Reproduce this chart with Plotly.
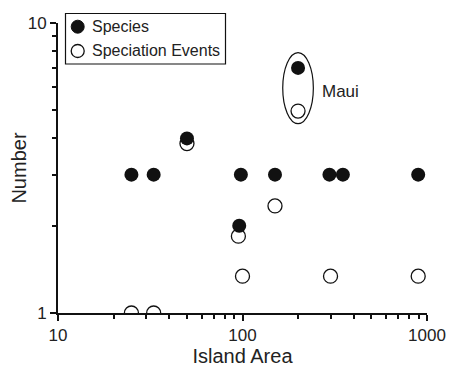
import math
import plotly.graph_objects as go

# Data
species_area = [25, 33, 50, 96, 98, 150, 200, 296, 350, 896]
species_num = [3, 3, 4, 2, 3, 3, 7, 3, 3, 3]

spec_area = [25, 33, 50, 95, 100, 150, 200, 300, 896]
spec_num = [1, 1, 3.84, 1.84, 1.34, 2.34, 4.97, 1.34, 1.34]

maui_area = 200
maui_species = 7
maui_events = 4.97

legend_labels = ["Species", "Speciation Events"]

x_major = [10, 100, 1000]
x_major_text = ["10", "100", "1000"]
x_minor = [20, 30, 40, 50, 60, 70, 80, 90, 200, 300, 400, 500, 600, 700, 800, 900]
y_major = [1, 10]
y_major_text = ["1", "10"]
y_minor = [2, 3, 4, 5, 6, 7, 8, 9]

FONT = "Arial, Liberation Sans, sans-serif"
INK = "#111"
TXT = "#222"

OFF = 8  # default page body margin
W, H = 469 - OFF, 367 - OFF
L, R, T, B = 58 - OFF, 42, 23 - OFF, 54
PW, PH = W - L - R, H - T - B


def px(x):
    return (x - OFF - L) / PW


def py(y):
    return (H - B - (y - OFF)) / PH


fig = go.Figure()
fig.add_trace(go.Scatter(
    x=spec_area, y=spec_num, mode="markers", name=legend_labels[1],
    marker=dict(size=14, color="white", line=dict(color=INK, width=1.3)),
    showlegend=False,
))
fig.add_trace(go.Scatter(
    x=species_area, y=species_num, mode="markers", name=legend_labels[0],
    marker=dict(size=14, color=INK, line=dict(color=INK, width=0)),
    showlegend=False,
))

# Ellipse around Maui (data coordinates on log axes)
fig.add_shape(type="circle", xref="x", yref="y",
              x0=maui_area / 10 ** 0.083, x1=maui_area * 10 ** 0.083,
              y0=maui_events / 1.105, y1=maui_species * 1.13,
              line=dict(color=INK, width=1.2))
fig.add_annotation(x=math.log10(maui_area), y=math.log10(math.sqrt(maui_species * maui_events)),
                   xref="x", yref="y", text="Maui", showarrow=False,
                   xanchor="left", xshift=22, yshift=-2,
                   font=dict(family=FONT, size=17, color=TXT))

# Custom legend (box, markers, labels)
fig.add_shape(type="rect", xref="paper", yref="paper",
              x0=px(65.5), x1=px(225.5), y0=py(64), y1=py(13.5),
              line=dict(color=INK, width=1.2), fillcolor="white", layer="below")
rows = [26.7, 51]
styles = [dict(fillcolor=INK, line=dict(color=INK, width=1)),
          dict(fillcolor="white", line=dict(color=INK, width=1.3))]
for ry, st, lab in zip(rows, styles, legend_labels):
    fig.add_shape(type="circle", xref="paper", yref="paper",
                  x0=px(77.7 - 6.5), x1=px(77.7 + 6.5), y0=py(ry + 6.5), y1=py(ry - 6.5),
                  **st)
    fig.add_annotation(x=px(90), y=py(ry), xref="paper", yref="paper", text=lab,
                       showarrow=False, xanchor="left", yanchor="middle",
                       font=dict(family=FONT, size=16, color=TXT))

axis_common = dict(
    type="log", showgrid=False, zeroline=False,
    showline=True, linecolor=INK, linewidth=2,
    ticks="outside", ticklen=6, tickwidth=2, tickcolor=INK,
    tickfont=dict(family=FONT, size=17, color=TXT),
    mirror=False, automargin=False,
)

fig.update_xaxes(**axis_common, range=[1, 3], tickvals=x_major, ticktext=x_major_text,
                 minor=dict(tickvals=x_minor, ticks="outside", ticklen=4, tickwidth=2,
                            tickcolor=INK, showgrid=False),
                 title=dict(text="Island Area", font=dict(family=FONT, size=20, color=TXT),
                            standoff=4))
fig.update_yaxes(**axis_common, range=[0, 1], tickvals=y_major, ticktext=y_major_text,
                 minor=dict(tickvals=y_minor, ticks="outside", ticklen=4, tickwidth=2,
                            tickcolor=INK, showgrid=False),
                 title=dict(text="Number", font=dict(family=FONT, size=20, color=TXT),
                            standoff=4))

fig.update_layout(
    width=W, height=H,
    margin=dict(l=L, r=R, t=T, b=B, autoexpand=False),
    paper_bgcolor="white", plot_bgcolor="white",
    showlegend=False,
)

fig.write_html("out.html")
